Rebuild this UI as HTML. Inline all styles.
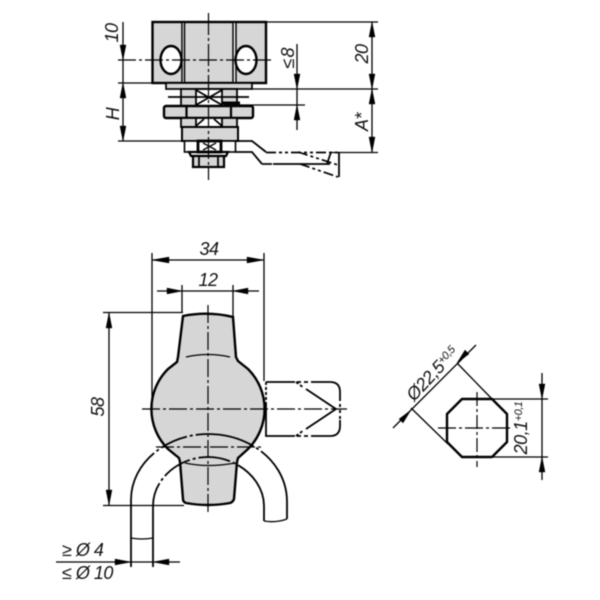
<!DOCTYPE html>
<html><head><meta charset="utf-8"><style>
html,body{margin:0;padding:0;background:#fff;width:600px;height:600px;overflow:hidden}
svg{display:block;filter:blur(.4px)}
text{font-family:"Liberation Sans",sans-serif;font-style:italic;font-size:18px;letter-spacing:-.5px;fill:#111}
.t{fill:none;stroke:#000;stroke-width:1.3}
.m{fill:none;stroke:#000;stroke-width:2.200}
.k{fill:#d6d6d6;stroke:#000;stroke-width:2.400}
.h{fill:none;stroke:#000;stroke-width:1.800}
.c{fill:none;stroke:#000;stroke-width:1.200;stroke-dasharray:18 3 3 3}
.d{fill:none;stroke:#000;stroke-width:1.700;stroke-dasharray:10 3 3 3 3 3}
.a{fill:#000;stroke:#000;stroke-width:.4}
</style></head><body>
<svg width="600" height="600" viewBox="0 0 600 600" xmlns="http://www.w3.org/2000/svg">
<!-- TOP VIEW -->
<rect class="k" x="152.500" y="22" width="113.500" height="61"/>
<rect x="182" y="23" width="2.500" height="59" fill="#fff"/>
<rect x="233" y="23" width="3" height="59" fill="#fff"/>
<path class="m" d="M182 22V83M184.500 22V83M233 22V83M236 22V83" style="stroke-width:1.500"/>
<ellipse cx="171" cy="60" rx="10.500" ry="14" fill="#fff" stroke="#000" stroke-width="2.400"/>
<ellipse cx="246" cy="60" rx="10.500" ry="14" fill="#fff" stroke="#000" stroke-width="2.400"/>
<rect class="k" x="166" y="83" width="86" height="6" style="stroke-width:1.700"/>
<rect class="k" x="181" y="89" width="56" height="17" style="stroke-width:1.800"/>
<rect x="196" y="90" width="26" height="15" fill="#fff"/>
<path class="h" d="M196 89V106M222 89V106M196 90L222 105M222 90L196 105M168 97H249"/>
<path d="M222 103H240" stroke="#000" stroke-width="3"/>
<rect class="k" x="164" y="106" width="89" height="12" rx="2" style="stroke-width:2.400"/>
<path class="m" d="M186.500 106V118M231 106V118"/>
<rect class="k" x="181" y="118" width="56" height="9" style="stroke-width:1.800"/>
<rect x="196" y="119" width="26" height="7" fill="#fff"/>
<path class="h" d="M196 118V127M222 118V127M196 126L204 119M222 126L214 119"/>
<rect class="k" x="182" y="127" width="56" height="14" style="stroke-width:2"/>
<rect x="184.500" y="141" width="51" height="11" fill="#fff" stroke="#000" stroke-width="1.600"/>
<rect x="198" y="141" width="23" height="11" fill="#fff" stroke="#000" stroke-width="2.800"/>
<path class="t" d="M203 143L216 150M216 143L203 150"/>
<path class="m" d="M189 152H228L226 156H191Z"/>
<rect class="k" x="193" y="156" width="31" height="11" style="stroke-width:2.200"/>
<path class="h" d="M199 156V167M218 156V167"/>
<!-- lever top -->
<path class="h" d="M235 141H252L266 152"/>
<path class="h" d="M235 152H252L262 164"/>
<path class="d" d="M266 152.500H339"/>
<path class="d" d="M262 164H273"/>
<path class="h" d="M273 164H330"/>
<path class="d" d="M298 152L338 165"/>
<path class="d" d="M300 164L338 177"/>
<path class="h" d="M339 152V177M331 152L327 164"/>
<!-- top dims -->
<path class="c" d="M208.500 13V180" style="stroke-dasharray:22 3 3 3"/>
<path class="c" d="M118 60H271"/>
<path class="t" d="M118 83H152M118 141H184M266 22H378M252 89H378M224 105H305M330 152.500H378"/>
<path class="t" d="M123 22V141M372 22V152M297 44V130"/>
<path class="a" d="M123 60L120 45H126ZM123 83L120 98H126ZM123 141L120 126H126ZM372 22L369 37H375ZM372 89L369 74H375ZM372 89L369 104H375ZM372 152.500L369 137H375ZM297 89L294 74H300ZM297 105L294 120H300Z"/>
<text transform="translate(118 33) rotate(-90)" text-anchor="middle">10</text>
<text transform="translate(119 114) rotate(-90)" text-anchor="middle">H</text>
<text transform="translate(294 59) rotate(-90)" text-anchor="middle" style="letter-spacing:-2px">≤ 8</text>
<text transform="translate(368 54) rotate(-90)" text-anchor="middle">20</text>
<text transform="translate(368 122) rotate(-90)" text-anchor="middle">A*</text>

<!-- FRONT VIEW -->
<path class="k" d="M183 316Q208 311 233 317L236 357L238 361L248 369A56.500 56.500 0 0 1 248 449L238 458L237 462L234 499Q233 502 230 503Q208 507 186 503Q183 502 183 499L180 462L179 458L168 449A56.500 56.500 0 0 1 168 369L177 362L178 357Z"/>
<path class="t" d="M186 357Q208 352 230 357"/>
<path class="t" d="M185 463Q208 468 235 463"/>
<!-- lever right -->
<path class="h" d="M266 382H295M312 382H330Q340 382 340 392V398M340 420V426Q340 436 330 436H312M295 436H266V402"/>
<path class="h" d="M266 382V402" style="stroke-dasharray:3 2"/>
<path class="h" d="M306 389L336 409L306 429"/>
<path class="h" d="M296 382L304 388M296 436L304 430" style="stroke-dasharray:3 2"/>
<path class="h" d="M297 382H312M297 436H312" style="stroke-dasharray:4 3"/>
<path class="h" d="M340 398V420" style="stroke-dasharray:3 3"/>
<!-- handle loop -->
<path class="h" d="M131 506V500C131 462 168 434 208 434C250 434 287 462 287 502V519" style="stroke-dasharray:60 3 3 3 28 3 3 3 60 3 3 3 26 0"/>
<path class="h" d="M153 506C153 478 180 457 208 457C238 457 264 480 264 506V521" style="stroke-dasharray:24 3 3 3 30 3 3 3 32 3 3 3 50 0"/>
<path class="t" d="M264 521Q276 523 287 519"/>
<path class="h" d="M131 506V567M153 506V567"/>
<path class="t" d="M131 538Q142 540 153 538"/>
<!-- centre lines -->
<path class="c" d="M208 305V514"/>
<path class="c" d="M142 409H347"/>
<path class="c" d="M156 447H263"/>
<!-- front dims -->
<path class="t" d="M152 253V409M264 253V381M152 260H264M182 313V285M233 317V285M157 291H259"/>
<path class="t" d="M103 312.500H183M103 505.500H184M109 313V505M56 562H180"/>
<path class="a" d="M152 260L169 257V263ZM264 260L247 257V263ZM182 291L167 288V294ZM233 291L248 288V294ZM109 313L106 328H112ZM109 505L106 490H112ZM131 562L115 559V565ZM153 562L169 559V565Z"/>
<text x="209" y="255" text-anchor="middle">34</text>
<text x="208" y="286" text-anchor="middle">12</text>
<text transform="translate(104 407) rotate(-90)" text-anchor="middle">58</text>
<text x="62" y="556">≥ Ø 4</text>
<text x="62" y="579">≤ Ø 10</text>

<!-- SECTION -->
<path d="M462 399H492L507 414V442L492 457H462L447 442V414Z" fill="#fff" stroke="#000" stroke-width="2.400" stroke-linejoin="round"/>
<path class="c" d="M438 428H513"/>
<path class="c" d="M477 392V467" style="stroke-dasharray:14 3 3 3"/>
<path class="t" d="M492 399H548M492 457H548M542 373V399M542 457V480M393 428L476 345M457 363L492 399M411 408L448 444"/>
<path class="t" d="M542 399V457"/>
<path class="a" d="M542 399L539 384H545ZM542 457L539 472H545ZM411 410L399 419L403 423ZM457 363L469 354L465 350Z"/>
<text transform="translate(527 428) rotate(-90)" text-anchor="middle">20,1<tspan font-size="11" dy="-5">+0,1</tspan></text>
<text transform="translate(414 402) rotate(-47)">Ø22,5<tspan font-size="11" dy="-5">+0,5</tspan></text>
</svg>
</body></html>
